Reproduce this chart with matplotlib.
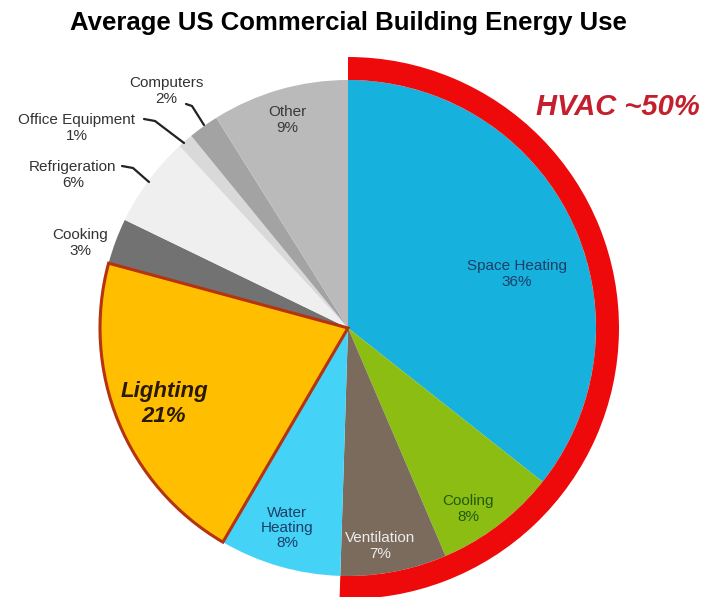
import matplotlib.pyplot as plt
from matplotlib.patches import Wedge

plt.rcParams['font.family'] = ['Liberation Sans', 'DejaVu Sans']

# Share of energy use, clockwise from 12 o'clock
categories = ['Space Heating', 'Cooling', 'Ventilation', 'Water Heating', 'Lighting',
              'Cooking', 'Refrigeration', 'Office Equipment', 'Computers', 'Other']
shares = [36, 8, 7, 8, 21, 3, 6, 1, 2, 9]
hvac = ['Space Heating', 'Cooling', 'Ventilation']
colors = ['#17b1dd', '#8cbd12', '#7b6b5c', '#44d2f7', '#ffbf00',
          '#727272', '#efefef', '#d9d9d9', '#a3a3a3', '#bababa']

W, H = 703, 597
cx, cy, R = 348, H - 328, 248

fig = plt.figure(figsize=(W / 100, H / 100), dpi=100)
ax = fig.add_axes([0, 0, 1, 1])

wedges, _ = ax.pie(shares, colors=colors, startangle=90, counterclock=False,
                   center=(cx, cy), radius=R, frame=True,
                   wedgeprops=dict(linewidth=0))
ax.set_xlim(0, W)
ax.set_ylim(0, H)
ax.set_aspect('equal')
ax.axis('off')

# lighting slice gets a dark outline
light = wedges[categories.index('Lighting')]
light.set_edgecolor('#b5330e')
light.set_linewidth(2.2)
light.set_zorder(3)

# red HVAC band around the heating/cooling/ventilation slices
total = sum(shares)
hvac_deg = 360 * sum(shares[categories.index(c)] for c in hvac) / total
ax.add_patch(Wedge((cx, cy), R + 23, 90 - hvac_deg, 90, width=23,
                   facecolor='#ee0a0a', edgecolor='none', zorder=4))
ax.text(618, H - 107, 'HVAC ~50%', color='#c41f2c', fontsize=21,
        fontweight='bold', fontstyle='italic', ha='center', va='center')

ax.text(348, H - 23, 'Average US Commercial Building Energy Use',
        fontsize=18.5, fontweight='bold', ha='center', va='center')

# in-slice labels: (x, y, text colour)
inside = {
    'Space Heating': (517, 274, '#1c3f66'),
    'Cooling': (468, 509, '#245a10'),
    'Ventilation': (380, 546, '#ececec'),
    'Water Heating': (287, 528, '#1c3f66'),
    'Other': (287, 120, '#3a3a3a'),
}
for name, (x, y, c) in inside.items():
    pct = shares[categories.index(name)]
    label = name.replace(' ', '\n') if name == 'Water Heating' else name
    ax.text(x, H - y, f'{label}\n{pct}%', color=c, fontsize=11,
            ha='center', va='center', linespacing=1.1, zorder=5)

ax.text(164, H - 404, f"Lighting\n{shares[categories.index('Lighting')]}%",
        color='#2a1a05', fontsize=16, fontweight='bold', fontstyle='italic',
        ha='center', va='center', linespacing=1.3, zorder=5)

# outside labels with kinked leader lines
outside = {
    'Cooking': ((80, 243), None),
    'Refrigeration': ((73, 175), [(122, 166), (133, 168), (149, 182)]),
    'Office Equipment': ((77, 128), [(144, 119), (155, 121), (184, 143)]),
    'Computers': ((166, 91), [(186, 104), (192, 106), (204, 125)]),
}
for name, ((x, y), path) in outside.items():
    pct = shares[categories.index(name)]
    ax.text(x, H - y, f'{name}\n{pct}%', color='#333333', fontsize=11,
            ha='center', va='center', linespacing=1.1)
    if path:
        ax.plot([p[0] for p in path], [H - p[1] for p in path],
                color='#222222', linewidth=1.6, solid_capstyle='round')

fig.savefig('out.png', dpi=100)
